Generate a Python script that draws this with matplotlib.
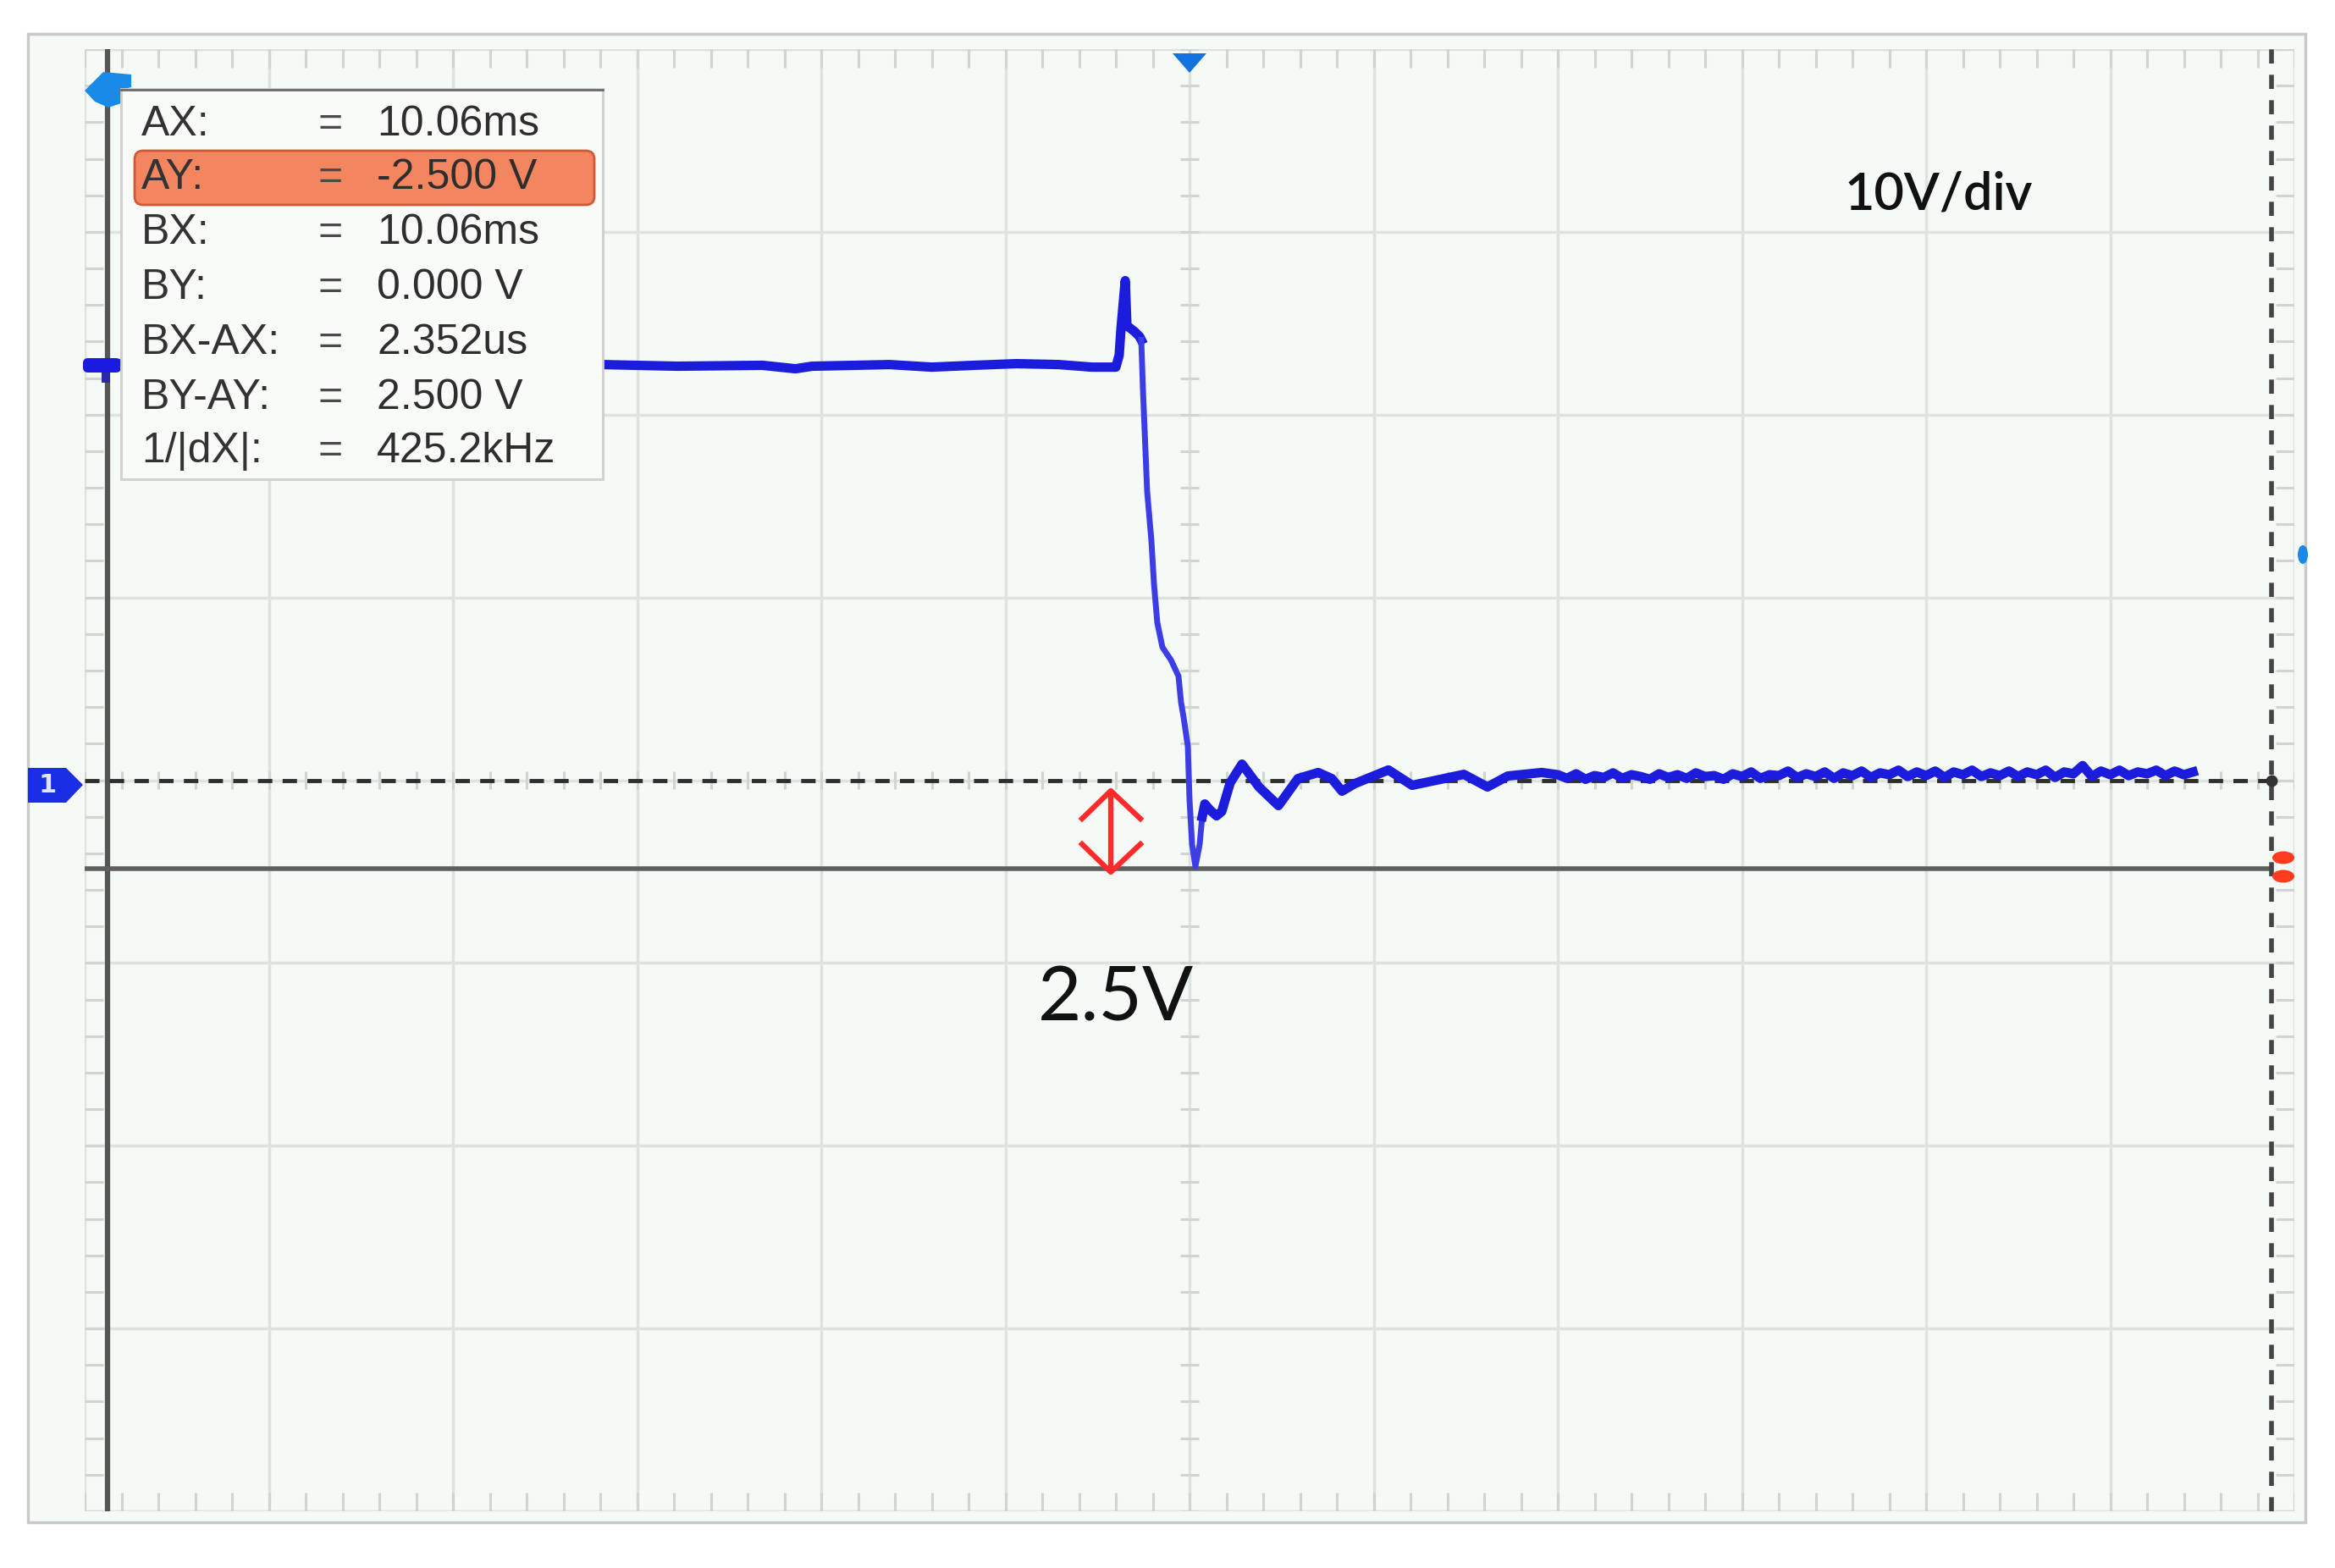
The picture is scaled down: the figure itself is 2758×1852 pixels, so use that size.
import numpy as np
import matplotlib
matplotlib.use("Agg")
import matplotlib.pyplot as plt
from matplotlib.patches import Rectangle, Polygon, FancyBboxPatch, Ellipse

# scope trace: time in us (1 us/div, trigger at 0), voltage in V (10 V/div, ch1 ground at centre)
t_pre = [-6.0, -5.08, -4.16, -3.19, -2.78, -2.32, -2.14, -2.05, -1.63, -1.40, -1.17,
         -0.94, -0.71, -0.53, -0.40, -0.382, -0.372, -0.349, -0.340, -0.299, -0.271, -0.262]
v_pre = [22.79, 22.74, 22.79, 22.74, 22.65, 22.70, 22.51, 22.65, 22.74, 22.60, 22.70,
         22.79, 22.74, 22.60, 22.60, 23.25, 24.73, 27.33, 24.87, 24.55, 24.27, 24.09]

t_fall = [-0.262, -0.253, -0.230, -0.207, -0.193, -0.175, -0.147, -0.101, -0.060,
          -0.046, -0.032, -0.009, 0.0, 0.014, 0.032, 0.055, 0.069]
v_fall = [24.09, 21.40, 15.79, 13.11, 10.75, 8.62, 7.27, 6.58, 5.70,
          4.26, 3.43, 1.85, -1.07, -3.52, -4.72, -3.52, -1.99]

t_ring = [0.069, 0.083, 0.115, 0.147, 0.175, 0.221, 0.285, 0.377, 0.483, 0.589,
          0.699, 0.772, 0.828, 0.897, 1.080, 1.209, 1.490, 1.618, 1.729, 1.913]
v_ring = [-1.99, -1.30, -1.67, -1.95, -1.71, -0.14, 0.88, -0.37, -1.39, 0.09,
          0.42, 0.09, -0.60, -0.19, 0.56, -0.28, 0.32, -0.37, 0.23, 0.42]

# settled part, sampled every 50 ns from 2.0 us
v_tail = [0.30, 0.10, 0.35, 0.05, 0.25, 0.15, 0.40, 0.10, 0.30, 0.20,
          0.05, 0.35, 0.15, 0.30, 0.10, 0.40, 0.20, 0.25, 0.05, 0.35,
          0.20, 0.45, 0.10, 0.30, 0.25, 0.50, 0.15, 0.35, 0.20, 0.45,
          0.10, 0.40, 0.25, 0.50, 0.15, 0.40, 0.30, 0.55, 0.20, 0.45,
          0.25, 0.50, 0.15, 0.45, 0.30, 0.55, 0.20, 0.40, 0.25, 0.50,
          0.20, 0.45, 0.30, 0.55, 0.15, 0.45, 0.35, 0.80, 0.20, 0.50,
          0.30, 0.55, 0.25, 0.45, 0.35, 0.55, 0.25, 0.50, 0.30, 0.45]
t_tail = list(2.0 + 0.05 * np.arange(len(v_tail)))

# cursors
cursor_a_t = -5.876
cursor_b_t = 5.876
cursor_level_v = -4.86

# cursor readout
readout_labels = ["AX:", "AY:", "BX:", "BY:", "BX-AX:", "BY-AY:", "1/|dX|:"]
readout_values = ["10.06ms", "-2.500 V", "10.06ms", "0.000 V", "2.352us", "2.500 V", "425.2kHz"]

W, H = 2758, 1852
fig = plt.figure(figsize=(W / 100, H / 100), dpi=100, facecolor="white")

# underlay / overlay axes in pixel units for the screen decorations
under = fig.add_axes([0, 0, 1, 1], zorder=0)
under.set_xlim(0, W); under.set_ylim(H, 0); under.axis("off")
under.add_patch(Rectangle((33, 40), 2690, 1758, facecolor="#f5faf6",
                          edgecolor="#c9c9c9", lw=2.5))

ax = fig.add_axes([100 / W, 1 - 1785 / H, 2610 / W, 1727 / H], zorder=1)
ax.set_xlim(-6, 6)
ax.set_ylim(-40, 40)
ax.axis("off")

grid_col = "#dfe3df"
ax.vlines(np.arange(-6, 7), -40, 40, colors=grid_col, lw=2.5, zorder=1)
ax.hlines(np.arange(-40, 41, 10), -6, 6, colors=grid_col, lw=2.5, zorder=1)

tick_col = "#d0d5d0"
minor_t = np.arange(-6, 6.001, 0.2)
minor_v = np.arange(-40, 40.001, 2)
ax.vlines(minor_t, 39.0, 40, colors=tick_col, lw=2.2, zorder=1)
ax.vlines(minor_t, -40, -39.0, colors=tick_col, lw=2.2, zorder=1)
ax.vlines(minor_t, -0.5, 0.5, colors=tick_col, lw=2.2, zorder=1)
ax.hlines(minor_v, -6, -5.9, colors=tick_col, lw=2.2, zorder=1)
ax.hlines(minor_v, 5.9, 6, colors=tick_col, lw=2.2, zorder=1)
ax.hlines(minor_v, -0.05, 0.05, colors=tick_col, lw=2.2, zorder=1)

# cursor / reference lines
ax.vlines(cursor_a_t, -40, 40, colors="#555555", lw=4.5, zorder=2)
ax.hlines(cursor_level_v, -6, cursor_b_t, colors="#5f5f5f", lw=4, zorder=2)
ax.plot([-6, cursor_b_t], [0, 0], color="#2e2e2e", lw=3.5, dashes=(3.5, 2.5), zorder=2)
ax.plot([cursor_b_t, cursor_b_t], [-40, 40], color="#444444", lw=4, dashes=(3, 2.4), zorder=2)
ax.plot(cursor_b_t, 0, "o", color="#333333", ms=9, zorder=2)

# trace
trace_col = "#1c1cdc"
ax.plot(t_pre, v_pre, color=trace_col, lw=8, zorder=3)
ax.plot(t_fall, v_fall, color="#3d3de8", lw=5, zorder=3)
ax.plot(t_ring + t_tail, v_ring + v_tail, color=trace_col, lw=8, zorder=3)

over = fig.add_axes([0, 0, 1, 1], zorder=2)
over.set_xlim(0, W); over.set_ylim(H, 0); over.axis("off")

# screen markers
over.add_patch(Polygon([(33, 907), (78, 907), (98, 927), (78, 948), (33, 948)],
                       facecolor="#1a2ee6", edgecolor="none"))
over.text(56, 928, "1", color="#dfe6ff", fontsize=22, fontweight="bold",
          ha="center", va="center")
over.add_patch(Polygon([(100, 107), (122, 85), (155, 88), (155, 103), (143, 106),
                        (143, 122), (128, 127), (112, 120)],
                       facecolor="#1a8ae8", edgecolor="none"))
over.add_patch(FancyBboxPatch((98, 423), 45, 17, boxstyle="round,pad=0,rounding_size=6",
                              facecolor="#1a1ae0", edgecolor="none"))
over.add_patch(Rectangle((120, 440), 10, 12, facecolor="#2a2aa8", edgecolor="none"))
over.add_patch(Polygon([(1385, 63), (1425, 63), (1405, 86)], facecolor="#1272e0",
                       edgecolor="none"))
over.add_patch(Ellipse((2697, 1013), 26, 15, facecolor="#ff3b1f", edgecolor="none"))
over.add_patch(Ellipse((2697, 1035), 26, 15, facecolor="#ff3b1f", edgecolor="none"))
over.add_patch(Ellipse((2720, 655), 12, 22, facecolor="#1a8ae8", edgecolor="none"))

# cursor readout box
over.add_patch(Rectangle((143, 105), 569, 461, facecolor="#f9fbf9",
                         edgecolor="#cfcfcf", lw=2))
over.plot([143, 712], [106, 106], color="#6a6a6a", lw=2)
over.add_patch(FancyBboxPatch((159, 178), 543, 64, boxstyle="round,pad=0,rounding_size=10",
                              facecolor="#f4865f", edgecolor="#d05a36", lw=2))
row_y = [147, 210, 275, 340, 405, 470, 533]
box_font = ["Liberation Sans", "DejaVu Sans"]
for lab, val, y in zip(readout_labels, readout_values, row_y):
    over.text(167, y, lab, fontsize=36, family=box_font, color="#333333", va="center", ha="left")
    over.text(390, y, "=", fontsize=36, family=box_font, color="#4a4a4a", va="center", ha="center")
    over.text(445, y, val, fontsize=36, family=box_font, color="#2e2e2e", va="center", ha="left")

# annotations
over.text(2179, 230, "10V/div", fontsize=44, family=["Lato", "DejaVu Sans"],
          fontweight="semibold", color="#111111", va="center", ha="left")
over.text(1226, 1180, "2.5V", fontsize=64, family=["Lato", "DejaVu Sans"],
          color="#111111", va="center", ha="left")

arrow_col = "#ff2a2a"
over.plot([1312, 1312], [936, 1027], color=arrow_col, lw=4.5)
over.plot([1278, 1312, 1347], [967, 934, 967], color=arrow_col, lw=4.5)
over.plot([1278, 1312, 1347], [997, 1030, 997], color=arrow_col, lw=4.5)

fig.savefig("out.png", dpi=100)
